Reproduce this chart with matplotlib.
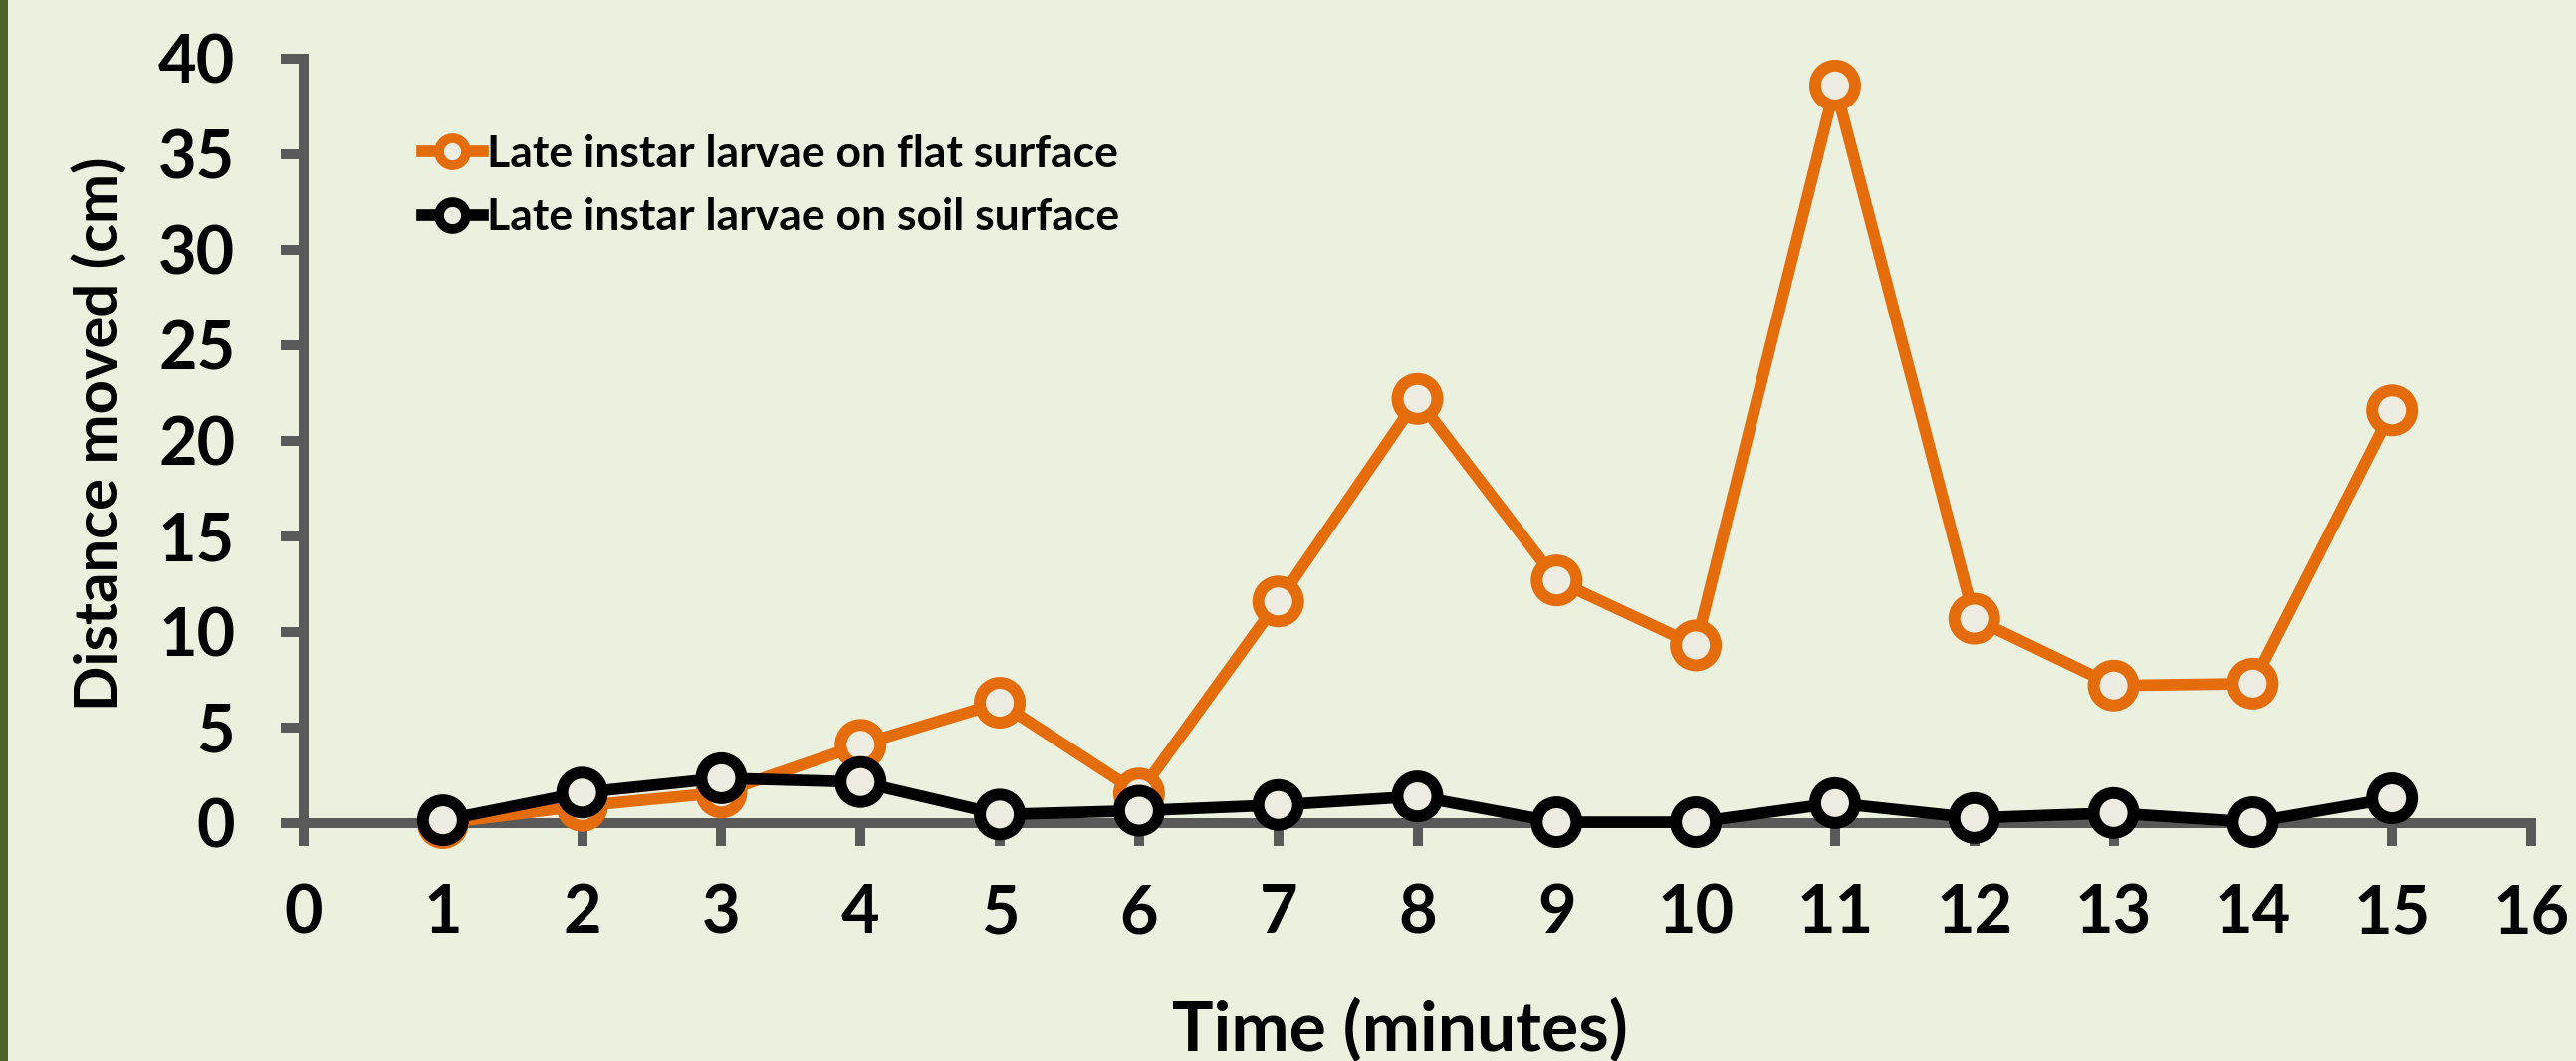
import matplotlib
matplotlib.use("Agg")
import matplotlib.pyplot as plt
import matplotlib.patheffects as pe
from matplotlib.lines import Line2D
from matplotlib.patches import Rectangle

# === DATA ===
minutes = [1, 2, 3, 4, 5, 6, 7, 8, 9, 10, 11, 12, 13, 14, 15]
flat_surface = [0.0, 0.9, 1.6, 4.1, 6.3, 1.55, 11.6, 22.2, 12.7, 9.3, 38.6, 10.7, 7.2, 7.3, 21.6]
soil_surface = [0.15, 1.6, 2.35, 2.15, 0.45, 0.65, 0.95, 1.4, 0.05, 0.05, 1.05, 0.27, 0.53, 0.05, 1.3]
x_ticks = list(range(0, 17))
y_ticks = list(range(0, 41, 5))
series_names = ["Late instar larvae on flat surface", "Late instar larvae on soil surface"]

# === STYLE ===
BG = "#EBF0DF"
ORANGE = "#E46C0A"
BLACK = "#000000"
FACE = "#EEECE1"
AXIS_GREY = "#595959"
STRIP = "#4F6228"

plt.rcParams["font.family"] = ["Lato", "DejaVu Sans"]
plt.rcParams["font.weight"] = "bold"

fig = plt.figure(figsize=(25.87, 10.66), dpi=100, facecolor=BG)
fig.patches.append(Rectangle((0, 0), 8 / 2587, 1, transform=fig.transFigure,
                             facecolor=STRIP, edgecolor="none"))

ax = fig.add_axes([305 / 2587, 1 - 827 / 1066, 2237 / 2587, 768 / 1066])
ax.set_facecolor(BG)

shadow = [pe.SimplePatchShadow(offset=(0.8, -1.8), shadow_rgbFace="#6f7560", alpha=0.35), pe.Normal()]

def draw_series(y, color, z):
    ax.plot(minutes, y, color=color, lw=8.4, solid_joinstyle="round",
            solid_capstyle="round", zorder=z, clip_on=False)
    ax.plot(minutes, y, linestyle="none", marker="o", ms=28.8, mew=8.6,
            mec=color, mfc=FACE, zorder=z + 0.5, clip_on=False, path_effects=shadow)

draw_series(flat_surface, ORANGE, 3)
draw_series(soil_surface, BLACK, 5)

ax.set_xlim(0, 16)
ax.set_ylim(0, 40)
ax.set_xticks(x_ticks)
ax.set_yticks(y_ticks)

for side in ["top", "right"]:
    ax.spines[side].set_visible(False)
for side in ["left", "bottom"]:
    ax.spines[side].set_color(AXIS_GREY)
    ax.spines[side].set_linewidth(7.2)

ax.tick_params(axis="both", direction="out", length=16.5, width=7.2, color=AXIS_GREY,
               labelsize=48, labelcolor="black")
ax.tick_params(axis="y", pad=33)
ax.tick_params(axis="x", pad=27)
for lbl in ax.get_xticklabels() + ax.get_yticklabels():
    lbl.set_fontweight("bold")

ax.set_xlabel("Time (minutes)", fontsize=50, fontweight="bold", va="center")
ax.xaxis.set_label_coords(0.492, -0.272)
ax.set_ylabel("Distance moved (cm)", fontsize=43, fontweight="bold", va="center")
ax.yaxis.set_label_coords(-0.0916, 0.51)

handles = [
    Line2D([], [], color=ORANGE, lw=8.4, marker="o", ms=19.4, mew=7, mec=ORANGE, mfc=FACE),
    Line2D([], [], color=BLACK, lw=8.4, marker="o", ms=19.4, mew=7, mec=BLACK, mfc=FACE),
]
leg = ax.legend(handles, series_names, loc="upper left", bbox_to_anchor=(0.053, 0.901),
                frameon=False, fontsize=32, handlelength=1.39, handletextpad=0.08,
                labelspacing=0.52, borderpad=0, borderaxespad=0)
for t in leg.get_texts():
    t.set_fontweight("bold")

fig.savefig("out.png", dpi=100, facecolor=BG)
